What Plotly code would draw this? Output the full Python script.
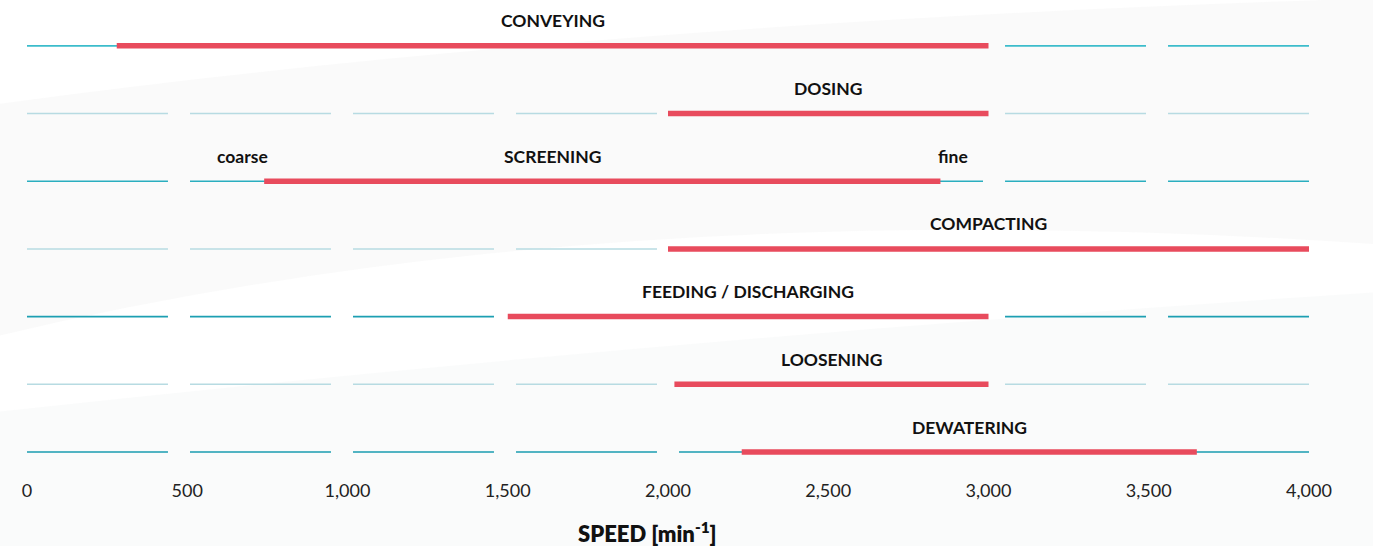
import plotly.graph_objects as go

# ---- data ----
applications = ["CONVEYING", "DOSING", "SCREENING", "COMPACTING",
                "FEEDING / DISCHARGING", "LOOSENING", "DEWATERING"]
speed_min = [280, 2000, 740, 2000, 1500, 2020, 2230]
speed_max = [3000, 3000, 2850, 4000, 3000, 3000, 3650]
tick_values = [0, 500, 1000, 1500, 2000, 2500, 3000, 3500, 4000]
tick_labels = ["0", "500", "1,000", "1,500", "2,000", "2,500", "3,000", "3,500", "4,000"]
screening_notes = ["coarse", "fine"]

# ---- styling ----
RED = "#e84b5d"
TEAL_DARK = ["#3cbccb", "#2aaebf", "#1d9fb2", "#1a9db0"]
TEAL_LIGHT = "#b7dbe2"
FONT = "Lato"
X_MIN, X_MAX = 0, 4000
N_SEG = 8
GAP = 68.75  # gap between guide segments in axis units
seg_w = (X_MAX - X_MIN - (N_SEG - 1) * GAP) / N_SEG

fig = go.Figure()

n = len(applications)
ys = [-i for i in range(n)]

# guide segments
for i, y in enumerate(ys):
    xs, yy = [], []
    for k in range(N_SEG):
        s = X_MIN + k * (seg_w + GAP)
        xs += [s, s + seg_w, None]
        yy += [y, y, None]
    col = TEAL_DARK[i // 2] if i % 2 == 0 else TEAL_LIGHT
    fig.add_trace(go.Scatter(x=xs, y=yy, mode="lines",
                             line=dict(color=col, width=1.6),
                             hoverinfo="skip", showlegend=False))

# red ranges
for i, y in enumerate(ys):
    fig.add_trace(go.Scatter(x=[speed_min[i], speed_max[i]], y=[y, y], mode="lines",
                             line=dict(color=RED, width=5.5),
                             name=applications[i], showlegend=False))

LBL_FONT = dict(family=FONT, size=17.5, color="#111", weight=700)
# labels
for i, y in enumerate(ys):
    if applications[i] == "SCREENING":
        xc = 1640
    else:
        xc = (speed_min[i] + speed_max[i]) / 2
    fig.add_annotation(x=xc, y=y, text=applications[i], showarrow=False,
                       xanchor="center", yanchor="middle", yshift=25, font=LBL_FONT)

si = applications.index("SCREENING")
fig.add_annotation(x=speed_min[si], y=ys[si], text=screening_notes[0],
                   showarrow=False, xanchor="right", yanchor="middle", yshift=25, xshift=6,
                   font=LBL_FONT)
fig.add_annotation(x=speed_max[si], y=ys[si], text=screening_notes[1],
                   showarrow=False, xanchor="left", yanchor="middle", yshift=25, xshift=-4,
                   font=LBL_FONT)

# axis title
fig.add_annotation(xref="paper", yref="paper", x=0.484, y=-0.118,
                   text="SPEED [min<sup>-1</sup>]", showarrow=False,
                   xanchor="center", yanchor="middle",
                   font=dict(family=FONT, size=22, color="#111", weight=800))

# very subtle background swooshes
fig.add_shape(type="path", xref="paper", yref="paper", layer="below",
              path="M -0.03,0.80 Q 0.45,0.98 1.06,1.03 L 1.06,0.50 Q 0.45,0.62 -0.03,0.30 Z",
              fillcolor="rgba(240,242,242,0.35)", line=dict(width=0))
fig.add_shape(type="path", xref="paper", yref="paper", layer="below",
              path="M -0.03,0.14 Q 0.5,0.30 1.06,0.40 L 1.06,-0.16 L -0.03,-0.16 Z",
              fillcolor="rgba(240,242,242,0.30)", line=dict(width=0))

fig.update_layout(
    width=1373, height=546,
    margin=dict(l=27, r=64, t=12, b=68),
    paper_bgcolor="white", plot_bgcolor="rgba(0,0,0,0)",
    xaxis=dict(range=[X_MIN, X_MAX], tickvals=tick_values, ticktext=tick_labels,
               showgrid=False, zeroline=False, showline=False, ticks="",
               tickfont=dict(family=FONT, size=18, color="#222")),
    yaxis=dict(range=[-(n - 1) - 0.384, 0.5], showgrid=False, zeroline=False,
               showline=False, showticklabels=False, ticks=""),
)

fig.write_html("out.html", config={"displayModeBar": False},
               post_script="document.body.style.margin='0px';document.body.style.overflow='hidden';")
